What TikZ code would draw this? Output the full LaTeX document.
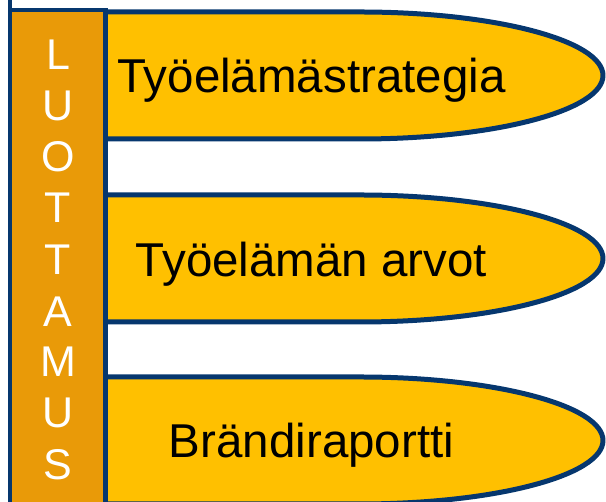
\documentclass[tikz,border=0pt]{standalone}
\usepackage{fontspec}
\setmainfont{Liberation Sans}
\definecolor{barorange}{RGB}{233,154,8}
\definecolor{shapeyellow}{RGB}{255,192,0}
\definecolor{edgeblue}{RGB}{6,55,110}
\tikzset{
  pillshape/.style={fill=shapeyellow, draw=edgeblue, line width=5pt, line join=round},
  barshape/.style={fill=barorange, draw=edgeblue, line width=4.5pt},
  pilltext/.style={anchor=base, inner sep=0pt, text=black, font=\fontsize{47.5}{57}\selectfont},
  bartext/.style={anchor=base, inner sep=0pt, text=white, font=\fontsize{43}{51}\selectfont}
}
\begin{document}
\begin{tikzpicture}[x=1pt,y=1pt]
\useasboundingbox (0,0) rectangle (606,502);
\clip (0,0) rectangle (606,502);
% three pill shapes (left ends hidden behind the bar)
\foreach \c in {426.5,243.5,61.5}{
  \draw[pillshape] (90,\c+63.5) -- (360,\c+63.5)
     arc[start angle=90, end angle=-90, x radius=243pt, y radius=63.5pt]
     -- (90,\c-63.5) -- cycle;
}
% vertical bar
\draw[barshape] (10,540) |- (105.5,492) -- (105.5,-20) -| (10,540);
% texts in the pills
\node[pilltext] (t1) at (311.5,409) {Työelämästrategia};
\node[pilltext] (t2) at (311.5,225) {Työelämän arvot};
\node[pilltext] (t3) at (311.5,44) {Brändiraportti};
% vertical letters
\foreach \l/\y [count=\i] in {L/432,U/381,O/330,T/279,T/227,A/175,M/125,U/74,S/22}{
  \node[bartext] (v\i) at (58,\y) {\l};
}
\end{tikzpicture}
\end{document}
